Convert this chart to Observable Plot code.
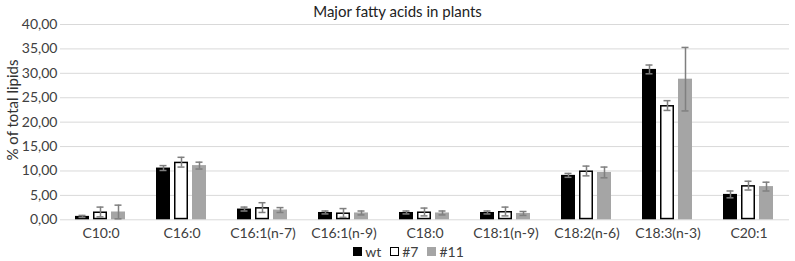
<!DOCTYPE html>
<html>
<head>
<meta charset="utf-8">
<script src="https://cdn.jsdelivr.net/npm/d3@7"></script>
<script src="https://cdn.jsdelivr.net/npm/@observablehq/plot@0.6"></script>
<style>
  body { margin: 0; background: #fff; font-family: Lato, "Open Sans", sans-serif; color: #404040; }
  #wrap { width: 795px; position: relative; }
  #title { position: absolute; left: 0; top: 2px; width: 795px; line-height: 18px; text-align: center; font-size: 15px; color: #222; }
  #ylabel { position: absolute; left: 12px; top: 110px; transform: translate(-50%, -50%) rotate(-90deg); white-space: nowrap; font-size: 15px; color: #333; }
  #legend { height: 19px; display: flex; justify-content: center; align-items: center; gap: 9px; font-size: 14px; padding-left: 22px; }
  .item { display: flex; align-items: center; gap: 3px; }
  .sw { width: 9px; height: 9px; box-sizing: border-box; display: inline-block; }
</style>
</head>
<body>
<div id="wrap">
  <div id="chart"></div>
  <div id="legend"></div>
  <div id="title">Major fatty acids in plants</div>
  <div id="ylabel">% of total lipids</div>
</div>
<script>
const categories = ["C10:0","C16:0","C16:1(n-7)","C16:1(n-9)","C18:0","C18:1(n-9)","C18:2(n-6)","C18:3(n-3)","C20:1"];
const seriesNames = ["wt","#7","#11"];
const wt     = [0.7, 10.6, 2.2, 1.5, 1.5, 1.5, 9.1, 30.8, 5.2];
const wtErr  = [0.2, 0.5, 0.4, 0.3, 0.3, 0.3, 0.4, 0.9, 0.7];
const s7     = [1.6, 11.8, 2.5, 1.4, 1.6, 1.7, 10.0, 23.4, 7.0];
const s7Err  = [1.0, 1.0, 1.0, 0.9, 0.8, 0.9, 1.0, 1.0, 0.9];
const s11    = [1.6, 11.1, 2.0, 1.4, 1.4, 1.3, 9.7, 28.8, 6.8];
const s11Err = [1.4, 0.7, 0.5, 0.4, 0.4, 0.4, 1.1, 6.5, 0.9];
const yTicks = [0, 5, 10, 15, 20, 25, 30, 35, 40];
const colors = ["#000000", "#ffffff", "#a5a5a5"];

const vals = [wt, s7, s11];
const errs = [wtErr, s7Err, s11Err];
const data = [];
categories.forEach((c, i) => {
  seriesNames.forEach((s, j) => {
    data.push({cat: c, series: s, value: vals[j][i], lo: vals[j][i] - errs[j][i], hi: vals[j][i] + errs[j][i]});
  });
});

const fmt = d => d.toFixed(2).replace(".", ",");

const chart = Plot.plot({
  width: 795,
  height: 242,
  marginLeft: 57,
  marginRight: 3,
  marginTop: 24,
  marginBottom: 22.7,
  style: {fontFamily: "Lato, 'Open Sans', sans-serif", fontSize: "14px", color: "#404040", background: "#fff"},
  fx: {domain: categories, padding: 0, label: null, axis: "bottom", tickSize: 0, tickPadding: 8},
  x: {domain: seriesNames, paddingInner: 0.2, paddingOuter: 0.754, axis: null},
  y: {domain: [0, 40], ticks: yTicks, tickFormat: fmt, tickSize: 0, tickPadding: 3, label: null},
  color: {domain: seriesNames, range: colors},
  marks: [
    Plot.ruleY(yTicks, {stroke: "#d9d9d9", strokeWidth: 1}),
    Plot.barY(data, {fx: "cat", x: "series", y: "value", fill: "series"}),
    Plot.barY(data.filter(d => d.series === "#7"), {fx: "cat", x: "series", y: "value", fill: "none", stroke: "#000", strokeWidth: 1.5, inset: 0.75}),
    Plot.ruleX(data, {fx: "cat", x: "series", y1: "lo", y2: "hi", stroke: "#7f7f7f", strokeWidth: 1.5}),
    Plot.tickY(data, {fx: "cat", x: "series", y: "hi", stroke: "#7f7f7f", strokeWidth: 1.5, insetLeft: 3.5, insetRight: 3.5}),
    Plot.tickY(data, {fx: "cat", x: "series", y: "lo", stroke: "#7f7f7f", strokeWidth: 1.5, insetLeft: 3.5, insetRight: 3.5})
  ]
});
document.getElementById("chart").appendChild(chart);

const legend = document.getElementById("legend");
seriesNames.forEach((s, j) => {
  const item = document.createElement("span");
  item.className = "item";
  const sw = document.createElement("span");
  sw.className = "sw";
  sw.style.background = colors[j];
  if (s === "#7") sw.style.border = "1.5px solid #000";
  item.appendChild(sw);
  const t = document.createElement("span");
  t.textContent = s;
  item.appendChild(t);
  legend.appendChild(item);
});
</script>
</body>
</html>
